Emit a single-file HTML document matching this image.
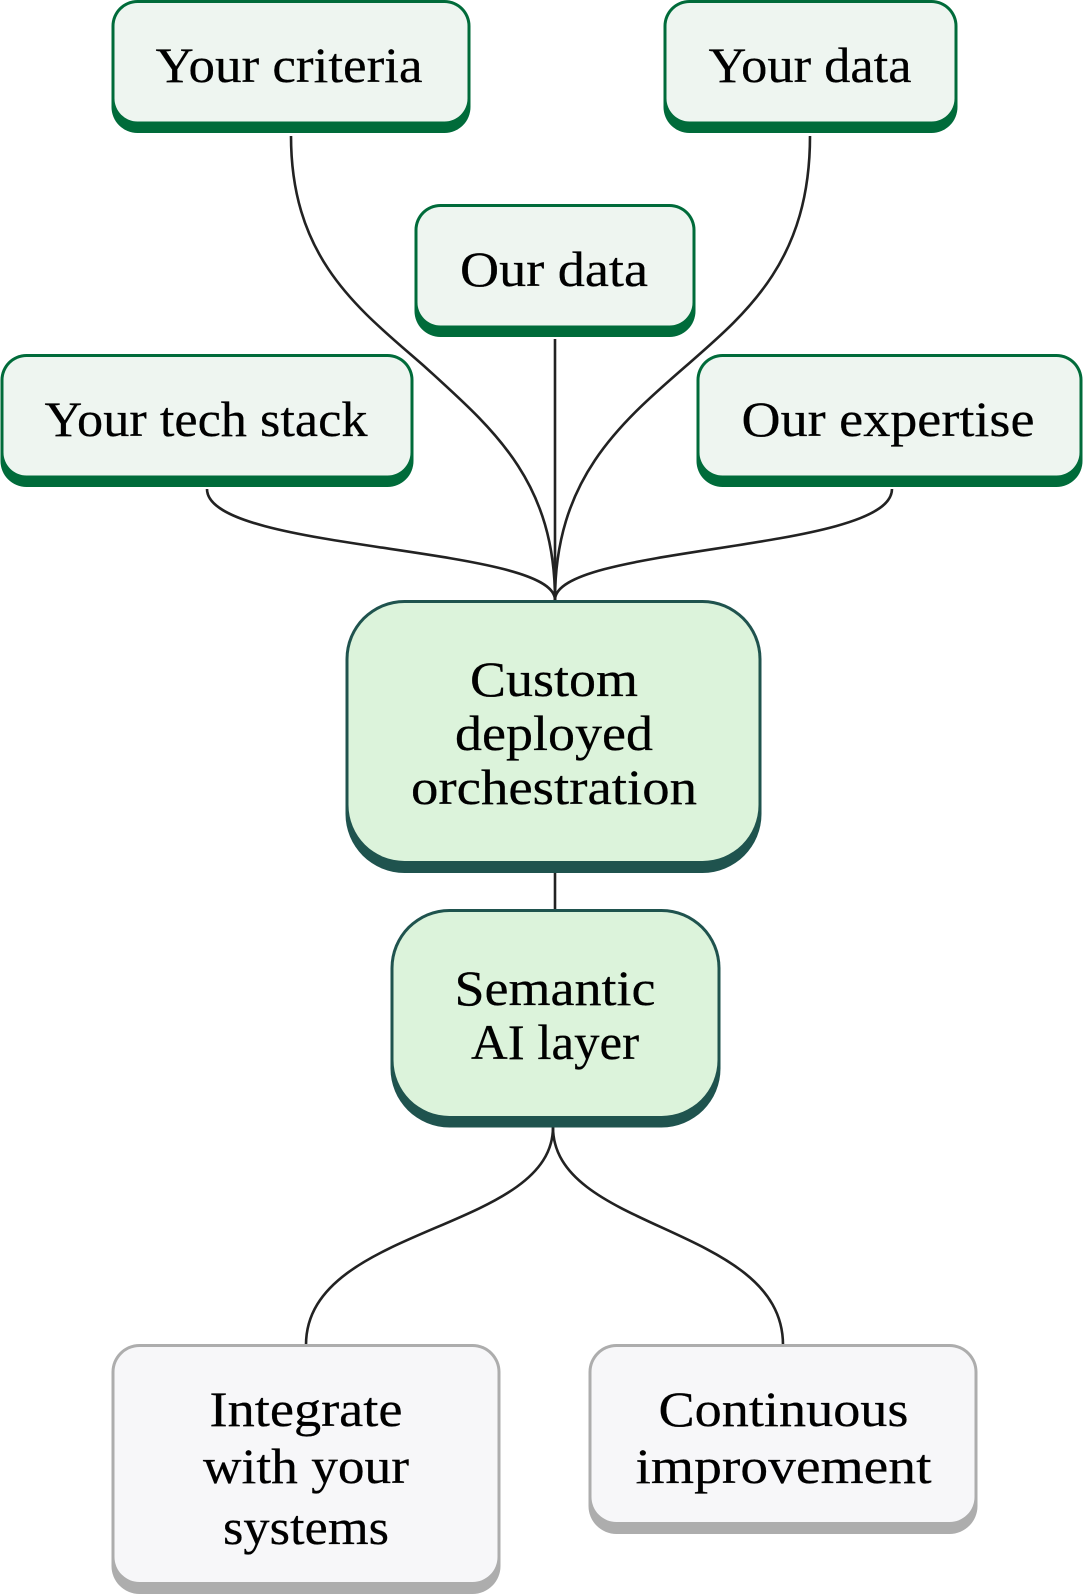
<!DOCTYPE html>
<html lang="en">
<head>
<meta charset="utf-8">
<title>Diagram</title>
<style>
html,body{margin:0;padding:0;background:#fff;width:1083px;height:1596px;overflow:hidden}
svg{display:block}
text{font-family:"Liberation Serif",serif;fill:#000;stroke:#000;stroke-width:.25;text-anchor:middle}
.t{font-size:50px}
.c{font-size:50px}
.l{fill:none;stroke:#222;stroke-width:2.6}
</style>
</head>
<body>
<svg width="1083" height="1596" viewBox="0 0 1083 1596" xmlns="http://www.w3.org/2000/svg">
<!-- connectors -->
<path class="l" d="M291 136C291 260 360 310 424 366C492 428 555 480 555 600"/>
<path class="l" d="M810 136C810 260 748 312 686 366C618 425 555 480 555 600"/>
<path class="l" d="M555 339V600"/>
<path class="l" d="M207 489C207 552 555 545 555 600"/>
<path class="l" d="M892 489C892 552 555 545 555 600"/>
<path class="l" d="M555 873V911"/>
<path class="l" d="M553 1127C553 1232 306 1225 306 1345"/>
<path class="l" d="M553 1127C553 1232 783 1225 783 1345"/>

<!-- green input boxes -->
<g fill="#006B3A">
<rect x="111.500" y="0" width="359" height="133" rx="26"/>
<rect x="663.500" y="0" width="294" height="133" rx="26"/>
<rect x="414.500" y="204" width="281" height="133" rx="26"/>
<rect x="0.500" y="354" width="413" height="133" rx="26"/>
<rect x="696.500" y="354" width="386" height="133" rx="26"/>
</g>
<g fill="#EEF5F0">
<rect x="114.500" y="3" width="353" height="118.500" rx="23"/>
<rect x="666.500" y="3" width="288" height="118.500" rx="23"/>
<rect x="417.500" y="207" width="275" height="118.500" rx="23"/>
<rect x="3.500" y="357" width="407" height="118.500" rx="23"/>
<rect x="699.500" y="357" width="380" height="118.500" rx="23"/>
</g>

<!-- central boxes -->
<g fill="#1F534E">
<rect x="345.500" y="600" width="416" height="273" rx="59"/>
<rect x="390.500" y="909" width="330" height="218.500" rx="59"/>
</g>
<g fill="#DCF3DB">
<rect x="348.500" y="603" width="410" height="258" rx="56"/>
<rect x="393.500" y="912" width="324" height="204" rx="56"/>
</g>

<!-- grey boxes -->
<g fill="#ADADAD">
<rect x="111.500" y="1344" width="389" height="250" rx="28"/>
<rect x="588.500" y="1344" width="389" height="190" rx="28"/>
</g>
<g fill="#F7F7F9">
<rect x="114.500" y="1347" width="383" height="235" rx="25"/>
<rect x="591.500" y="1347" width="383" height="175" rx="25"/>
</g>

<!-- labels -->
<text class="t" x="289" y="82" textLength="267" lengthAdjust="spacingAndGlyphs">Your criteria</text>
<text class="t" x="810" y="82" textLength="203" lengthAdjust="spacingAndGlyphs">Your data</text>
<text class="t" x="554" y="286" textLength="188" lengthAdjust="spacingAndGlyphs">Our data</text>
<text class="t" x="206" y="436" textLength="323" lengthAdjust="spacingAndGlyphs">Your tech stack</text>
<text class="t" x="888" y="436" textLength="293" lengthAdjust="spacingAndGlyphs">Our expertise</text>

<text class="c" x="554" y="696" textLength="168" lengthAdjust="spacingAndGlyphs">Custom</text>
<text class="c" x="554" y="750" textLength="198" lengthAdjust="spacingAndGlyphs">deployed</text>
<text class="c" x="554" y="804" textLength="286" lengthAdjust="spacingAndGlyphs">orchestration</text>
<text class="c" x="555" y="1005" textLength="201" lengthAdjust="spacingAndGlyphs">Semantic</text>
<text class="c" x="555" y="1059" textLength="168" lengthAdjust="spacingAndGlyphs">AI layer</text>

<text class="t" x="306" y="1426" textLength="193" lengthAdjust="spacingAndGlyphs">Integrate</text>
<text class="t" x="306" y="1483" textLength="206" lengthAdjust="spacingAndGlyphs">with your</text>
<text class="t" x="306" y="1544" textLength="166" lengthAdjust="spacingAndGlyphs">systems</text>
<text class="t" x="783.500" y="1426" textLength="250" lengthAdjust="spacingAndGlyphs">Continuous</text>
<text class="t" x="783.500" y="1483" textLength="296" lengthAdjust="spacingAndGlyphs">improvement</text>
</svg>
</body>
</html>
